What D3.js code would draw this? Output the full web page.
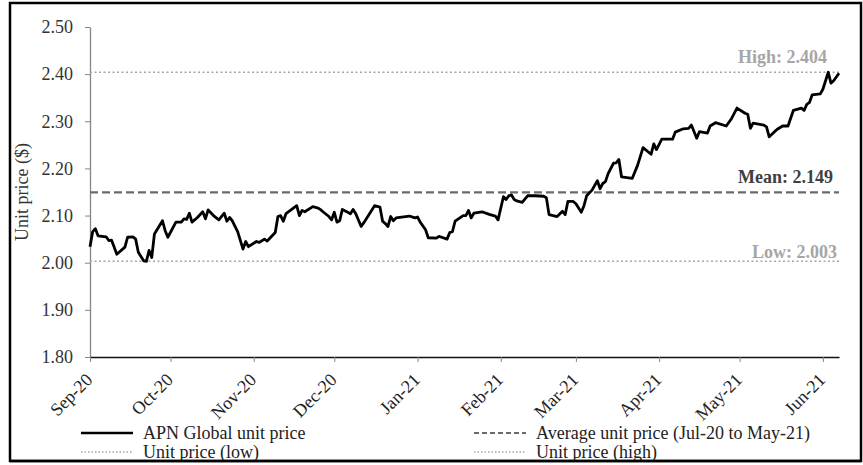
<!DOCTYPE html>
<html>
<head>
<meta charset="utf-8">
<script src="https://cdn.jsdelivr.net/npm/d3@7"></script>
<style>
  body { margin: 0; background: #fff; }
  svg { display: block; font-family: 'Liberation Serif', 'Times New Roman', serif; }
</style>
</head>
<body>
<script>

// daily unit prices
const dates = [
  '2020-09-01','2020-09-02','2020-09-03','2020-09-04','2020-09-07','2020-09-08','2020-09-09','2020-09-11',
  '2020-09-14','2020-09-15','2020-09-17','2020-09-18','2020-09-19','2020-09-21','2020-09-22','2020-09-23',
  '2020-09-24','2020-09-25','2020-09-28','2020-09-29','2020-09-30','2020-10-03','2020-10-05','2020-10-06',
  '2020-10-07','2020-10-08','2020-10-09','2020-10-11','2020-10-13','2020-10-14','2020-10-15','2020-10-17',
  '2020-10-19','2020-10-21','2020-10-22','2020-10-23','2020-10-24','2020-10-26','2020-10-28','2020-10-29',
  '2020-10-30','2020-11-02','2020-11-03','2020-11-05','2020-11-06','2020-11-09','2020-11-10','2020-11-11',
  '2020-11-12','2020-11-13','2020-11-17','2020-11-18','2020-11-19','2020-11-20','2020-11-23','2020-11-25',
  '2020-11-26','2020-11-27','2020-11-29','2020-11-30','2020-12-01','2020-12-02','2020-12-03','2020-12-04',
  '2020-12-06','2020-12-07','2020-12-08','2020-12-09','2020-12-11','2020-12-12','2020-12-16','2020-12-18',
  '2020-12-19','2020-12-20','2020-12-21','2020-12-22','2020-12-23','2020-12-24','2020-12-29','2020-12-31',
  '2021-01-01','2021-01-02','2021-01-04','2021-01-05','2021-01-08','2021-01-09','2021-01-10','2021-01-12',
  '2021-01-13','2021-01-14','2021-01-15','2021-01-18','2021-01-19','2021-01-20','2021-01-21','2021-01-22',
  '2021-01-25','2021-01-28','2021-01-30','2021-01-31','2021-02-02','2021-02-03','2021-02-04','2021-02-05',
  '2021-02-06','2021-02-07','2021-02-09','2021-02-11','2021-02-14','2021-02-17','2021-02-18','2021-02-19',
  '2021-02-22','2021-02-24','2021-02-25','2021-02-26','2021-02-28','2021-03-01','2021-03-03','2021-03-04',
  '2021-03-05','2021-03-07','2021-03-09','2021-03-10','2021-03-11','2021-03-12','2021-03-13','2021-03-15',
  '2021-03-16','2021-03-17','2021-03-18','2021-03-22','2021-03-24','2021-03-26','2021-03-29','2021-03-30',
  '2021-03-31','2021-04-02','2021-04-06','2021-04-07','2021-04-10','2021-04-12','2021-04-13','2021-04-15',
  '2021-04-16','2021-04-19','2021-04-20','2021-04-22','2021-04-26','2021-04-28','2021-04-30','2021-05-03',
  '2021-05-04','2021-05-05','2021-05-06','2021-05-10','2021-05-11','2021-05-12','2021-05-14','2021-05-15',
  '2021-05-17','2021-05-19','2021-05-21','2021-05-24','2021-05-25','2021-05-26','2021-05-27','2021-05-28',
  '2021-05-31','2021-06-01','2021-06-03','2021-06-04','2021-06-05','2021-06-07'
];

const prices = [
  2.034, 2.066, 2.072, 2.057, 2.055, 2.047, 2.048, 2.018,
  2.033, 2.054, 2.055, 2.050, 2.022, 2.004, 2.003, 2.026,
  2.011, 2.061, 2.089, 2.068, 2.054, 2.086, 2.086, 2.093,
  2.092, 2.105, 2.086, 2.096, 2.108, 2.093, 2.112, 2.100,
  2.091, 2.105, 2.088, 2.096, 2.089, 2.066, 2.029, 2.045,
  2.034, 2.045, 2.043, 2.050, 2.046, 2.064, 2.098, 2.100,
  2.088, 2.104, 2.121, 2.100, 2.111, 2.108, 2.119, 2.116,
  2.112, 2.107, 2.098, 2.091, 2.107, 2.086, 2.089, 2.113,
  2.107, 2.104, 2.113, 2.104, 2.077, 2.085, 2.121, 2.118,
  2.088, 2.083, 2.077, 2.098, 2.089, 2.095, 2.099, 2.095,
  2.097, 2.086, 2.070, 2.053, 2.052, 2.056, 2.054, 2.050,
  2.064, 2.066, 2.088, 2.100, 2.100, 2.111, 2.095, 2.105,
  2.108, 2.102, 2.099, 2.091, 2.140, 2.134, 2.142, 2.144,
  2.134, 2.131, 2.128, 2.142, 2.142, 2.141, 2.138, 2.102,
  2.098, 2.109, 2.102, 2.130, 2.130, 2.125, 2.107, 2.121,
  2.142, 2.154, 2.174, 2.157, 2.168, 2.172, 2.189, 2.211,
  2.212, 2.219, 2.182, 2.179, 2.207, 2.244, 2.230, 2.252,
  2.240, 2.262, 2.262, 2.277, 2.284, 2.285, 2.292, 2.264,
  2.278, 2.275, 2.290, 2.297, 2.290, 2.306, 2.328, 2.317,
  2.315, 2.285, 2.296, 2.292, 2.288, 2.267, 2.278, 2.283,
  2.290, 2.290, 2.323, 2.328, 2.323, 2.336, 2.340, 2.356,
  2.358, 2.368, 2.404, 2.381, 2.386, 2.402
];

const yTicks = [1.80, 1.90, 2.00, 2.10, 2.20, 2.30, 2.40, 2.50];
const xTicks = ['2020-09-01','2020-10-01','2020-11-01','2020-12-01','2021-01-01',
                '2021-02-01','2021-03-01','2021-04-01','2021-05-01','2021-06-01'];

const meanPrice = 2.149;
const lowPrice = 2.003;
const highPrice = 2.404;

const legendLabels = ['APN Global unit price', 'Average unit price (Jul-20 to May-21)',
                      'Unit price (low)', 'Unit price (high)'];

const parse = d3.timeParse('%Y-%m-%d');
const data = dates.map((d, i) => ({ date: parse(d), price: prices[i] }));

class chart {

  constructor(opts) {
    this.element = opts.element;
    this.data = opts.data;
    this.draw();
  }

  draw() {
    this.width = 863;
    this.height = 465;

    this.svg = d3.select(this.element).append('svg')
      .attr('width', this.width)
      .attr('height', this.height);

    // outer frame
    this.svg.append('rect')
      .attr('x', 10).attr('y', 3)
      .attr('width', 851).attr('height', 458)
      .attr('fill', '#fff')
      .attr('stroke', '#000')
      .attr('stroke-width', 2.5);

    this.plot = this.svg.append('g');

    this.createScales();
    this.addAxes();
    this.addRefLines();
    this.addChart();
    this.addLegend();
  }

  createScales() {
    this.xScale = d3.scaleTime()
      .domain([parse('2020-09-01'), parse('2021-06-07')])
      .range([90, 839]);

    this.yScale = d3.scaleLinear()
      .domain([1.8, 2.5])
      .range([357, 27]);
  }

  addAxes() {
    const yAxis = d3.axisLeft(this.yScale)
      .tickValues(yTicks)
      .tickFormat(d3.format('.2f'))
      .tickSize(5)
      .tickSizeOuter(0)
      .tickPadding(12);

    const gy = this.plot.append('g')
      .attr('class', 'y axis')
      .attr('transform', 'translate(90,0)')
      .call(yAxis);

    gy.select('.domain').attr('stroke', '#868686').attr('stroke-width', 1.3);
    gy.selectAll('.tick line').attr('stroke', '#868686');
    gy.selectAll('text')
      .attr('font-size', 18)
      .attr('font-family', 'Liberation Serif, serif')
      .attr('fill', '#333');

    const xAxis = d3.axisBottom(this.xScale)
      .tickValues(xTicks.map(parse))
      .tickFormat(d3.timeFormat('%b-%y'))
      .tickSize(5)
      .tickSizeOuter(0);

    const gx = this.plot.append('g')
      .attr('class', 'x axis')
      .attr('transform', 'translate(0,357)')
      .call(xAxis);

    gx.select('.domain').attr('stroke', '#111').attr('stroke-width', 1.3);
    gx.selectAll('.tick line').attr('stroke', '#868686');
    gx.selectAll('text')
      .attr('font-size', 18)
      .attr('font-family', 'Liberation Serif, serif')
      .attr('fill', '#222')
      .attr('text-anchor', 'end')
      .attr('x', 0).attr('y', 0).attr('dy', 0)
      .attr('transform', 'translate(3,24) rotate(-45)');

    // y-axis title
    this.svg.append('text')
      .attr('transform', `translate(28,${(27 + 357) / 2}) rotate(-90)`)
      .attr('text-anchor', 'middle')
      .attr('font-size', 18)
      .attr('fill', '#333')
      .text('Unit price ($)');
  }

  addRefLines() {
    const x0 = this.xScale.range()[0];
    const x1 = this.xScale.range()[1];

    const refs = [
      { v: highPrice, stroke: '#a6a6a6', dash: '2,2.5', width: 1.6, label: 'High: ' + highPrice.toFixed(3), color: '#a6a6a6', dx: -12, dy: -9 },
      { v: meanPrice, stroke: '#6b6b6b', dash: '8,4', width: 2.2, label: 'Mean: ' + meanPrice.toFixed(3), color: '#404040', dx: -6, dy: -9 },
      { v: lowPrice, stroke: '#a6a6a6', dash: '2,2.5', width: 1.6, label: 'Low: ' + lowPrice.toFixed(3), color: '#a6a6a6', dx: -2, dy: -3 }
    ];

    refs.forEach(r => {
      const y = this.yScale(r.v);
      this.plot.append('line')
        .attr('x1', x0).attr('x2', x1)
        .attr('y1', y).attr('y2', y)
        .attr('stroke', r.stroke)
        .attr('stroke-width', r.width)
        .attr('stroke-dasharray', r.dash);

      this.plot.append('text')
        .attr('x', x1 + r.dx)
        .attr('y', y + r.dy)
        .attr('text-anchor', 'end')
        .attr('font-size', 18)
        .attr('font-weight', 'bold')
        .attr('fill', r.color)
        .text(r.label);
    });
  }

  addChart() {
    const line = d3.line()
      .x(d => this.xScale(d.date))
      .y(d => this.yScale(d.price));

    this.plot.append('path')
      .datum(this.data)
      .attr('fill', 'none')
      .attr('stroke', '#000')
      .attr('stroke-width', 2.8)
      .attr('stroke-linejoin', 'round')
      .attr('d', line);
  }

  addLegend() {
    const items = [
      { label: legendLabels[0], x: 81, y: 433, stroke: '#000', dash: null, width: 2.6 },
      { label: legendLabels[1], x: 474, y: 433, stroke: '#6b6b6b', dash: '5,3', width: 2 },
      { label: legendLabels[2], x: 81, y: 452, stroke: '#a6a6a6', dash: '1.5,2', width: 1.4 },
      { label: legendLabels[3], x: 474, y: 452, stroke: '#a6a6a6', dash: '1.5,2', width: 1.4 }
    ];

    const g = this.svg.append('g').attr('class', 'legend');

    items.forEach(it => {
      g.append('line')
        .attr('x1', it.x).attr('x2', it.x + 52)
        .attr('y1', it.y).attr('y2', it.y)
        .attr('stroke', it.stroke)
        .attr('stroke-width', it.width)
        .attr('stroke-dasharray', it.dash);

      g.append('text')
        .attr('x', it.x + 62)
        .attr('y', it.y + 6)
        .attr('font-size', 18)
        .attr('fill', '#222')
        .text(it.label);
    });

    // redraw the bottom frame edge over the clipped legend row
    this.svg.append('line')
      .attr('x1', 10).attr('x2', 861)
      .attr('y1', 461).attr('y2', 461)
      .attr('stroke', '#000')
      .attr('stroke-width', 2.5);
  }

}

new chart({ element: document.querySelector('body'), data: data });

</script>
</body>
</html>
